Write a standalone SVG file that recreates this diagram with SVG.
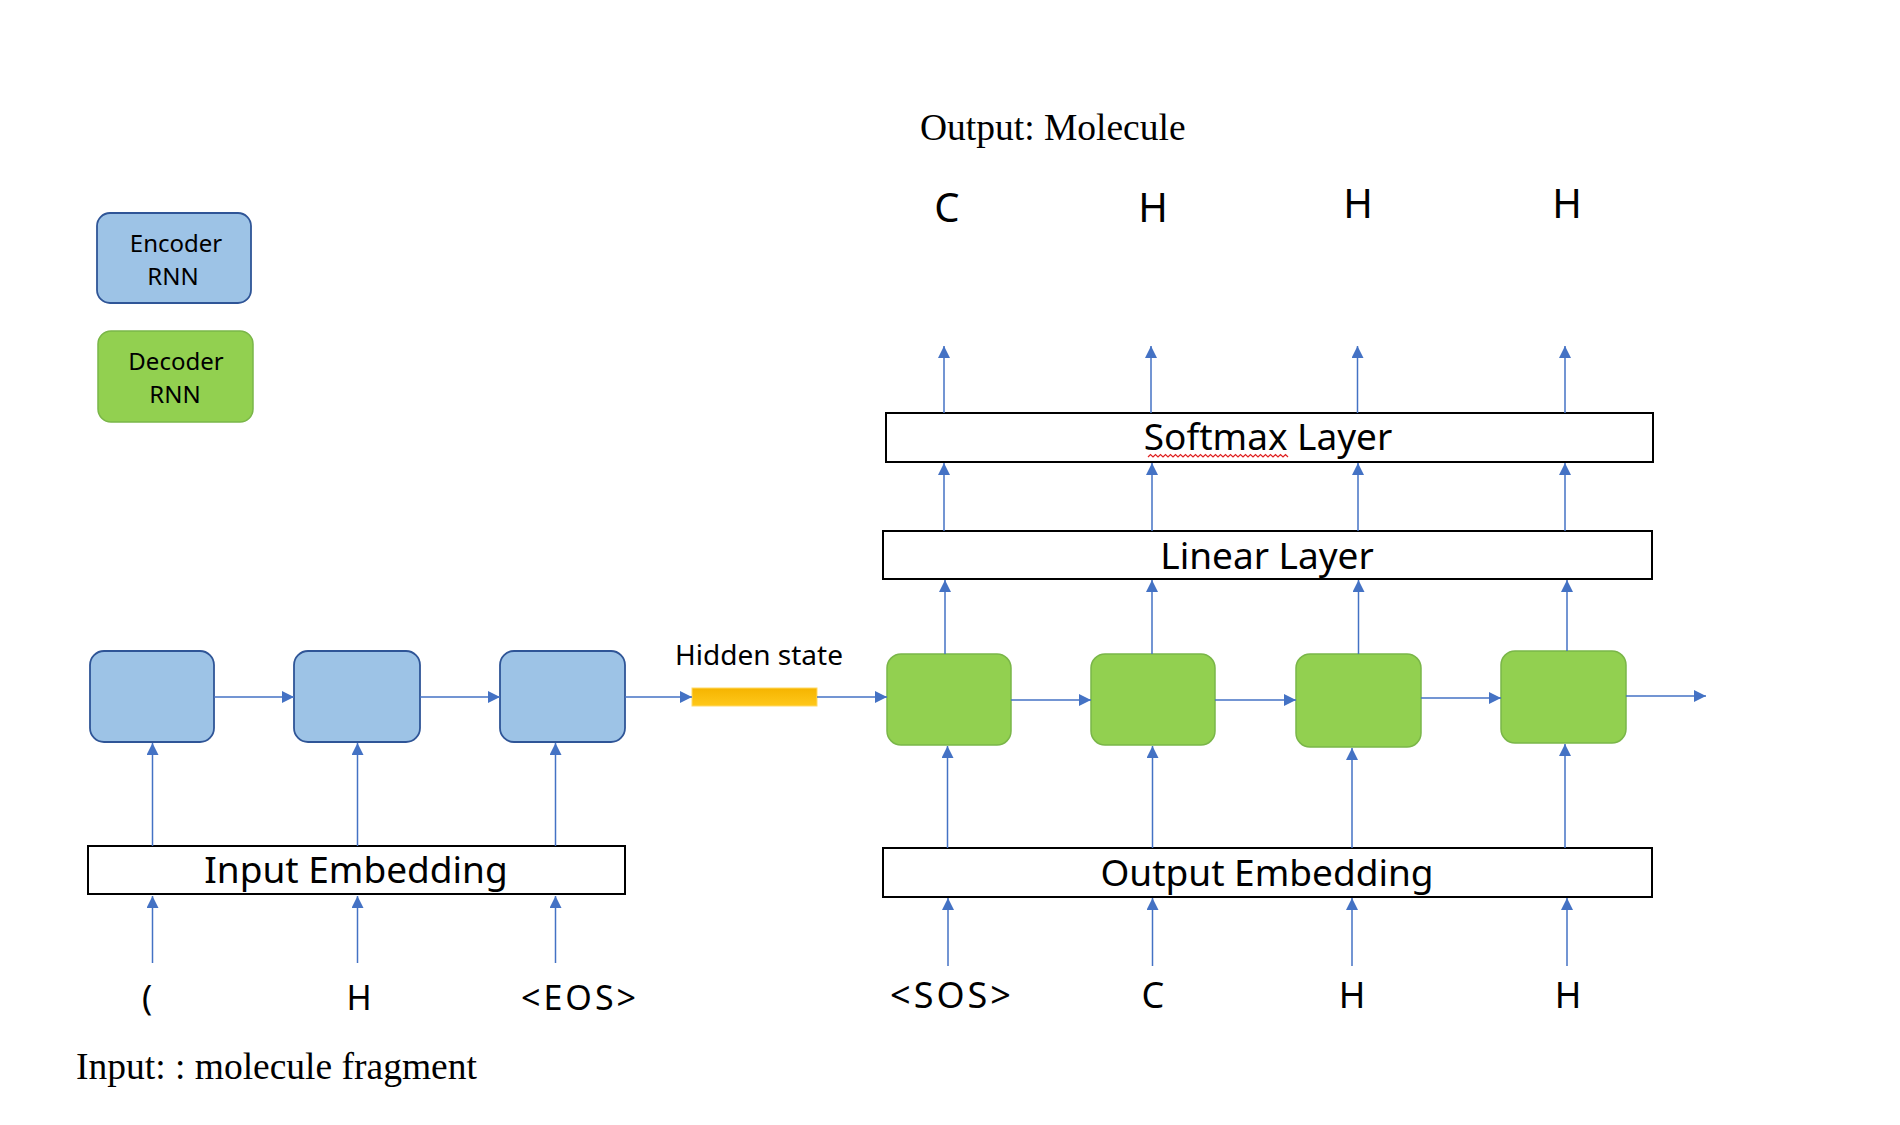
<svg xmlns="http://www.w3.org/2000/svg" width="1900" height="1125" viewBox="0 0 1900 1125">
<defs>
<marker id="ah" markerWidth="12" markerHeight="12" refX="12" refY="6" orient="auto" markerUnits="userSpaceOnUse"><path d="M0,0 L12,6 L0,12 z" fill="#4472C4"/></marker>
<linearGradient id="hg" x1="0" y1="0" x2="0" y2="1"><stop offset="0" stop-color="#F5B400"/><stop offset="1" stop-color="#FFC81A"/></linearGradient>
</defs>
<style>
.enc{fill:#9DC3E6;stroke:#2F5597;stroke-width:1.8}
.dec{fill:#92D050;stroke:#7AB648;stroke-width:1.5}
.layer{fill:#FFFFFF;stroke:#000000;stroke-width:2}
.sans{font-family:"Noto Sans","Liberation Sans",sans-serif;fill:#000}
.serif{font-family:"Liberation Serif","Times New Roman",serif;fill:#000;font-size:37.5px}
.lbl{font-size:37px;text-anchor:middle}
.leg{font-size:24px;text-anchor:middle}
.tok{text-anchor:middle}
.wide{letter-spacing:3px}
.conn line{stroke:#4472C4;stroke-width:1.5;marker-end:url(#ah)}
</style>
<rect width="1900" height="1125" fill="#FFFFFF"/>

<text class="serif" x="920" y="140">Output: Molecule</text>
<text class="serif" x="76" y="1079">Input: : molecule fragment</text>

<g id="legend-encoder">
<rect class="enc" x="97" y="213" width="154" height="90" rx="13"/>
<text class="sans leg" x="176" y="252">Encoder</text>
<text class="sans leg" x="173" y="285">RNN</text>
</g>
<g id="legend-decoder">
<rect class="dec" x="98" y="331" width="155" height="91" rx="13"/>
<text class="sans leg" x="176" y="370">Decoder</text>
<text class="sans leg" x="175" y="403">RNN</text>
</g>

<g id="out-tokens" class="sans tok" font-size="40">
<text x="947" y="222">C</text>
<text x="1153" y="222">H</text>
<text x="1358" y="218">H</text>
<text x="1567" y="218">H</text>
</g>

<g id="softmax-layer">
<rect class="layer" x="886" y="413" width="767" height="49"/>
<text class="sans lbl" x="1268" y="450">Softmax Layer</text>
<path d="M1148,457 l2.5,-2.5 l2.5,2.5 l2.5,-2.5 l2.5,2.5 l2.5,-2.5 l2.5,2.5 l2.5,-2.5 l2.5,2.5 l2.5,-2.5 l2.5,2.5 l2.5,-2.5 l2.5,2.5 l2.5,-2.5 l2.5,2.5 l2.5,-2.5 l2.5,2.5 l2.5,-2.5 l2.5,2.5 l2.5,-2.5 l2.5,2.5 l2.5,-2.5 l2.5,2.5 l2.5,-2.5 l2.5,2.5 l2.5,-2.5 l2.5,2.5 l2.5,-2.5 l2.5,2.5 l2.5,-2.5 l2.5,2.5 l2.5,-2.5 l2.5,2.5 l2.5,-2.5 l2.5,2.5 l2.5,-2.5 l2.5,2.5 l2.5,-2.5 l2.5,2.5 l2.5,-2.5 l2.5,2.5 l2.5,-2.5 l2.5,2.5 l2.5,-2.5 l2.5,2.5 l2.5,-2.5 l2.5,2.5 l2.5,-2.5 l2.5,2.5 l2.5,-2.5 l2.5,2.5 l2.5,-2.5 l2.5,2.5 l2.5,-2.5 l2.5,2.5 l2.5,-2.5 l2.5,2.5" fill="none" stroke="#E02020" stroke-width="1.2"/>
</g>

<g id="linear-layer">
<rect class="layer" x="883" y="531" width="769" height="48"/>
<text class="sans lbl" x="1267" y="569">Linear Layer</text>
</g>

<g id="enc1"><rect class="enc" x="90" y="651" width="124" height="91" rx="14"/></g>
<g id="enc2"><rect class="enc" x="294" y="651" width="126" height="91" rx="14"/></g>
<g id="enc3"><rect class="enc" x="500" y="651" width="125" height="91" rx="14"/></g>

<g id="hidden-state">
<rect x="692" y="688" width="125" height="18" fill="url(#hg)" stroke="#FFD966" stroke-width="1"/>
<text class="sans" x="759" y="665" font-size="28" text-anchor="middle">Hidden state</text>
</g>

<g id="dec1"><rect class="dec" x="887" y="654" width="124" height="91" rx="14"/></g>
<g id="dec2"><rect class="dec" x="1091" y="654" width="124" height="91" rx="14"/></g>
<g id="dec3"><rect class="dec" x="1296" y="654" width="125" height="93" rx="14"/></g>
<g id="dec4"><rect class="dec" x="1501" y="651" width="125" height="92" rx="14"/></g>

<g id="input-embedding">
<rect class="layer" x="88" y="846" width="537" height="48"/>
<text class="sans lbl" x="356" y="883">Input Embedding</text>
</g>
<g id="output-embedding">
<rect class="layer" x="883" y="848" width="769" height="49"/>
<text class="sans lbl" x="1267" y="886">Output Embedding</text>
</g>

<g id="in-tokens" class="sans tok" font-size="34">
<text x="147" y="1010">(</text>
<text x="359" y="1010">H</text>
<text class="wide" x="580" y="1010">&lt;EOS&gt;</text>
</g>
<g id="dec-tokens" class="sans tok" font-size="36">
<text class="wide" x="952" y="1008">&lt;SOS&gt;</text>
<text x="1153" y="1008">C</text>
<text x="1352" y="1008">H</text>
<text x="1568" y="1008">H</text>
</g>

<g id="connectors" class="conn">
<line x1="214" y1="697" x2="294" y2="697"/>
<line x1="420" y1="697" x2="500" y2="697"/>
<line x1="625" y1="697" x2="692" y2="697"/>
<line x1="817" y1="697" x2="887" y2="697"/>
<line x1="1011" y1="700" x2="1091" y2="700"/>
<line x1="1215" y1="700" x2="1296" y2="700"/>
<line x1="1421" y1="698" x2="1501" y2="698"/>
<line x1="1626" y1="696" x2="1706" y2="696"/>

<line x1="152.5" y1="963" x2="152.5" y2="896"/>
<line x1="357.5" y1="963" x2="357.5" y2="896"/>
<line x1="555.5" y1="963" x2="555.5" y2="896"/>
<line x1="152.5" y1="846" x2="152.5" y2="743"/>
<line x1="357.5" y1="846" x2="357.5" y2="743"/>
<line x1="555.5" y1="846" x2="555.5" y2="743"/>

<line x1="948" y1="966" x2="948" y2="898"/>
<line x1="1152.5" y1="966" x2="1152.5" y2="898"/>
<line x1="1352" y1="966" x2="1352" y2="898"/>
<line x1="1567" y1="966" x2="1567" y2="898"/>
<line x1="947.5" y1="848" x2="947.5" y2="746"/>
<line x1="1152.5" y1="848" x2="1152.5" y2="746"/>
<line x1="1352" y1="848" x2="1352" y2="748"/>
<line x1="1565" y1="848" x2="1565" y2="744"/>

<line x1="945" y1="654" x2="945" y2="580"/>
<line x1="1152" y1="654" x2="1152" y2="580"/>
<line x1="1358.5" y1="654" x2="1358.5" y2="580"/>
<line x1="1567" y1="651" x2="1567" y2="580"/>

<line x1="944" y1="531" x2="944" y2="463"/>
<line x1="1152" y1="531" x2="1152" y2="463"/>
<line x1="1358" y1="531" x2="1358" y2="463"/>
<line x1="1565" y1="531" x2="1565" y2="463"/>

<line x1="944" y1="413" x2="944" y2="346"/>
<line x1="1151" y1="413" x2="1151" y2="346"/>
<line x1="1357.5" y1="413" x2="1357.5" y2="346"/>
<line x1="1565" y1="413" x2="1565" y2="346"/>
</g>
</svg>
